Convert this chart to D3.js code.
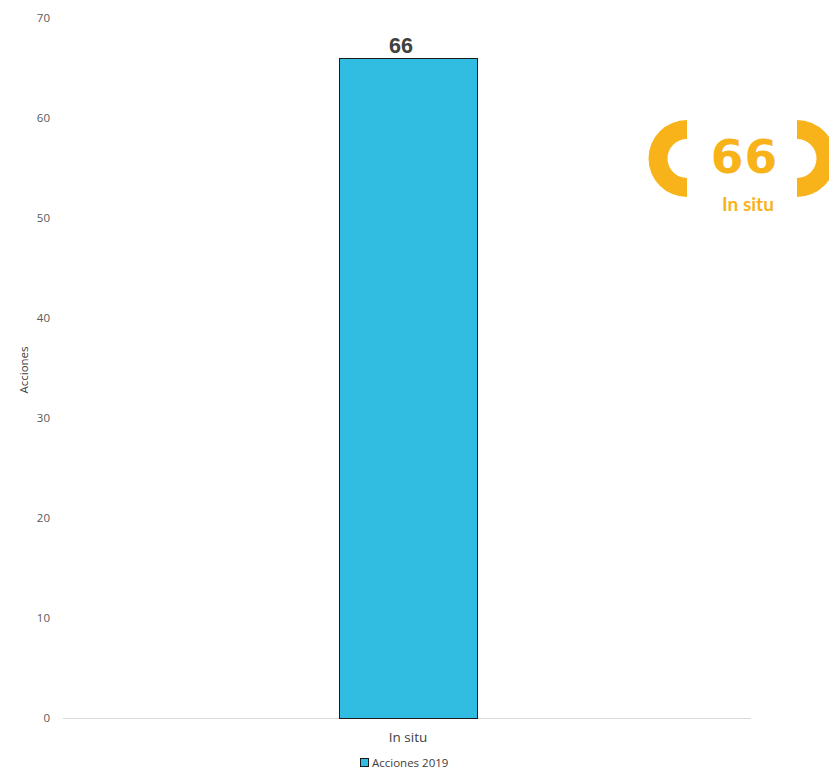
<!DOCTYPE html>
<html><head><meta charset="utf-8">
<script src="https://cdn.jsdelivr.net/npm/d3@7"></script>
<style>body{margin:0;background:#fff}svg{display:block}</style>
</head><body>
<script>
const categories = ["In situ"];
const values = [66];
const seriesName = "Acciones 2019";
const yTicks = [0,10,20,30,40,50,60,70];
const badgeValue = "66";
const badgeLabel = "In situ";

const W = 829, H = 769;
const svg = d3.select("body").append("svg").attr("width", W).attr("height", H);
const m = {left: 64, right: 752, top: 18, bottom: 718};
const x = d3.scaleBand().domain(categories).range([m.left, m.right]).paddingInner(0.8).paddingOuter(0.4);
const y = d3.scaleLinear().domain([0, 70]).range([m.bottom, m.top]);

const font = "'Open Sans', 'Liberation Sans', sans-serif";
// y tick labels
const yAxis = svg.append("g").attr("transform", `translate(${m.left},0)`)
  .call(d3.axisLeft(y).tickValues(yTicks).tickSize(0).tickPadding(14));
yAxis.select(".domain").remove();
yAxis.selectAll("text").attr("font-family", font).attr("font-size", 11.5).attr("fill", "#595959");

// baseline
svg.append("line").attr("x1", 63).attr("x2", 751).attr("y1", y(0) + 0.5).attr("y2", y(0) + 0.5)
  .attr("stroke", "#d9d9d9").attr("stroke-width", 1);

// bars
const bw = 138;
svg.selectAll("rect.bar").data(values).join("rect").attr("class", "bar")
  .attr("x", (d, i) => Math.round(x(categories[i]) + x.bandwidth() / 2 - bw / 2) + 0.5)
  .attr("width", bw)
  .attr("y", d => y(d) + 0.5).attr("height", d => y(0) - y(d))
  .attr("fill", "#31bde1").attr("stroke", "#1a1a1a").attr("stroke-width", 1);

// value labels
svg.selectAll("text.val").data(values).join("text").attr("class", "val")
  .attr("x", (d, i) => x(categories[i]) + x.bandwidth() / 2 - 7)
  .attr("y", d => y(d) - 5)
  .attr("text-anchor", "middle").attr("font-family", "'Liberation Sans', Arial, sans-serif")
  .attr("font-weight", "bold").attr("font-size", 21.5).attr("fill", "#404040").text(d => d);

// category labels
svg.selectAll("text.cat").data(categories).join("text").attr("class", "cat")
  .attr("x", d => x(d) + x.bandwidth() / 2).attr("y", 742)
  .attr("text-anchor", "middle").attr("font-family", font).attr("font-size", 13.5)
  .attr("fill", "#404040").text(d => d);

// y axis title
svg.append("text").attr("transform", "translate(28,370) rotate(-90)")
  .attr("text-anchor", "middle").attr("font-family", font).attr("font-size", 11.5)
  .attr("fill", "#404040").text("Acciones");

// legend
const lg = svg.append("g");
lg.append("rect").attr("x", 360.5).attr("y", 758.5).attr("width", 8).attr("height", 8)
  .attr("fill", "#31bde1").attr("stroke", "#1a1a1a").attr("stroke-width", 1);
lg.append("text").attr("x", 372).attr("y", 767).attr("font-family", font).attr("font-size", 11.5)
  .attr("fill", "#404040").text(seriesName);

// badge
const orange = "#f9b31a";
const b = svg.append("g");
function bracket(cx, cy, dir) {
  const ro = 38.5, ri = 19.5;
  const s = dir; // -1 left, 1 right
  return `M${cx},${cy - ro} A${ro},${ro} 0 0 ${s < 0 ? 0 : 1} ${cx},${cy + ro}`
    + ` L${cx},${cy + ri} A${ri},${ri} 0 0 ${s < 0 ? 1 : 0} ${cx},${cy - ri} Z`;
}
b.append("path").attr("d", bracket(687, 158.5, -1)).attr("fill", orange);
b.append("path").attr("d", bracket(797, 158.5, 1)).attr("fill", orange);
b.append("text").attr("x", 744.5).attr("y", 173).attr("text-anchor", "middle")
  .attr("font-family", "'DejaVu Sans', sans-serif").attr("font-weight", "bold").attr("font-size", 47)
  .attr("letter-spacing", 1).attr("fill", orange).text(badgeValue);
b.append("text").attr("x", 748).attr("y", 211).attr("text-anchor", "middle")
  .attr("font-family", "'Lato', sans-serif").attr("font-weight", "bold").attr("font-size", 19)
  .attr("fill", orange).text(badgeLabel);
</script>
</body></html>
